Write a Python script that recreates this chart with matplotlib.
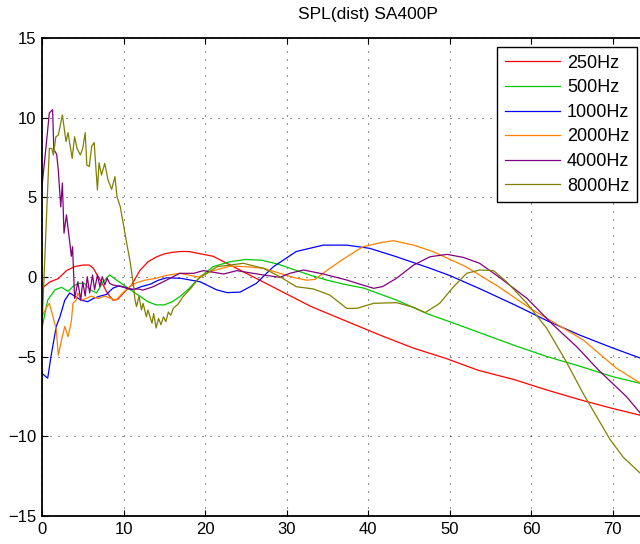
import matplotlib
matplotlib.use("Agg")
import matplotlib.pyplot as plt

plt.rcParams['font.family'] = ['Liberation Sans', 'DejaVu Sans']

labels = ['250Hz', '500Hz', '1000Hz', '2000Hz', '4000Hz', '8000Hz']
colors = ['#ff0000', '#00c800', '#0000ff', '#ff8000', '#800080', '#808000']

x_250 = [0, 1, 2, 3, 4, 5, 5.8, 6.3, 6.8, 7.4, 8, 8.7, 9.3, 10, 11, 12, 13, 14, 15, 16, 17, 18, 19,
         21, 25, 29, 33, 37, 41.5, 45.5, 49.5, 53.5, 58, 62, 66, 70, 74]
y_250 = [-0.7, -0.3, -0.1, 0.4, 0.65, 0.75, 0.75, 0.55, 0.1, -0.4, -1.0, -1.45, -1.4, -1.0, -0.5,
         0.4, 0.95, 1.25, 1.45, 1.55, 1.6, 1.6, 1.5, 1.3, 0.25, -0.8, -1.85, -2.7, -3.65, -4.45,
         -5.1, -5.85, -6.45, -7.1, -7.7, -8.25, -8.75]

x_500 = [0, 0.7, 1.6, 2.4, 3.2, 3.8, 4.4, 5.2, 5.9, 6.7, 7.5, 8.3, 8.9, 10, 11.4, 13, 14, 15, 16,
         17, 18, 19, 20, 21, 23, 25, 27, 29, 31, 33, 35, 37, 39.5, 43.5, 47.5, 50, 54, 58, 62, 66,
         70, 74]
y_500 = [-3.2, -1.45, -0.8, -0.65, -0.9, -0.6, -0.4, -0.4, -0.8, -1.0, -0.3, 0.13, -0.1, -0.5,
         -1.0, -1.55, -1.75, -1.75, -1.55, -1.2, -0.75, -0.2, 0.25, 0.65, 0.95, 1.1, 1.05, 0.8,
         0.45, 0.1, -0.2, -0.45, -0.7, -1.45, -2.35, -2.8, -3.55, -4.3, -5.0, -5.6, -6.25, -6.75]

x_1000 = [0, 0.7, 1.1, 1.75, 2.2, 2.8, 3.4, 4, 4.8, 5.6, 6.3, 7.1, 7.9, 8.7, 9.5, 10.5, 11.2, 12.2,
          13.3, 14.3, 15.3, 17, 19.4, 21.4, 22.7, 24.3, 26.3, 28.4, 31.2, 34.5, 37.4, 40.2, 43.5,
          47.6, 50, 54, 58, 62, 66, 70, 74]
y_1000 = [-6.05, -6.35, -5.0, -3.1, -2.5, -1.45, -1.0, -1.2, -1.45, -1.55, -1.35, -1.2, -1.1, -0.7,
          -0.55, -0.7, -0.8, -0.6, -0.45, -0.2, -0.05, -0.08, -0.3, -0.8, -0.98, -0.95, -0.4, 0.65,
          1.6, 2.0, 2.0, 1.8, 1.27, 0.55, 0.1, -0.8, -1.75, -2.75, -3.65, -4.45, -5.2]

x_2000 = [0, 0.5, 0.9, 1.35, 1.75, 2.0, 2.4, 2.8, 3.2, 3.6, 3.8, 4.2, 4.4, 4.8, 5.4, 6.0, 6.9, 7.7,
          8.5, 9.1, 9.9, 10.8, 11.4, 12.6, 13.8, 15.3, 16.9, 19.2, 21, 23.1, 25, 27.2, 29.2, 31,
          32.5, 33.5, 35.3, 37.4, 39.4, 41.5, 43.1, 45.6, 48, 52, 56, 60, 62.3, 66.4, 70.5, 74]
y_2000 = [-2.5, -1.95, -1.65, -2.5, -3.3, -4.9, -3.95, -3.1, -3.75, -2.8, -1.65, -1.45, -1.0, -1.45,
          -1.35, -1.2, -1.35, -1.2, -1.35, -1.45, -1.0, -0.6, -0.4, -0.2, -0.1, 0.1, 0.23, 0.0,
          0.4, 0.68, 0.65, 0.54, 0.23, -0.05, -0.2, -0.15, 0.54, 1.27, 1.9, 2.15, 2.28, 2.0, 1.59,
          0.65, -0.6, -2.0, -2.7, -3.95, -5.73, -6.85]

x_4000 = [0, 0.5, 0.9, 1.3, 1.45, 1.8, 2.0, 2.3, 2.5, 2.7, 3.0, 3.4, 3.6, 3.75, 4.0, 4.4, 4.75, 5.0,
          5.3, 5.55, 5.85, 6.2, 6.45, 6.8, 7.1, 7.4, 7.7, 8.0, 8.3, 8.7, 9.7, 10.8, 11.8, 12.4,
          13.7, 15.3, 16.9, 18.6, 19.8, 21, 22.3, 23.9, 25.9, 27.5, 29.2, 30.4, 32.1, 34.5, 37.4,
          39, 40.7, 41.8, 43.5, 45.6, 47.6, 49.7, 51.7, 53.7, 56.2, 59.5, 62.7, 65.6, 68.3, 71.7,
          74]
y_4000 = [5.7, 8.2, 10.3, 10.5, 8.0, 7.7, 6.7, 4.4, 5.9, 2.75, 3.9, 2.2, 1.3, 1.9, -1.35, -0.3,
          -1.45, -0.3, -1.2, 0.02, -1.0, 0.13, -0.8, 0.13, -0.6, 0.02, -0.5, -0.08, -0.4, -0.5,
          -0.6, -0.77, -0.75, -0.82, -0.6, -0.19, 0.23, 0.23, 0.4, 0.3, 0.19, 0.4, 0.23, 0.1,
          -0.02, 0.23, 0.44, 0.19, -0.19, -0.45, -0.71, -0.6, -0.08, 0.75, 1.27, 1.42, 1.23, 0.86,
          -0.05, -1.34, -3.0, -4.37, -5.85, -7.5, -8.9]

x_8000 = [0, 0.9, 1.2, 1.4, 1.7, 2.0, 2.5, 2.95, 3.2, 3.4, 3.7, 4.0, 4.3, 4.7, 5.0, 5.3, 5.5, 5.8,
          6.1, 6.4, 6.8, 7.0, 7.3, 7.7, 8.1, 8.55, 8.95, 9.2, 9.6, 10.0, 10.4, 10.8, 11.2, 11.4,
          11.6, 11.9, 12.2, 12.4, 12.8, 13.0, 13.5, 13.7, 14.0, 14.3, 14.6, 14.9, 15.2, 15.5, 15.8,
          16.1, 16.7, 17.3, 18.2, 19.2, 20.2, 21.5, 23.1, 24.7, 27.2, 29.2, 31.2, 33.3, 35.3, 37.4,
          38.6, 40.7, 43.5, 45.6, 47, 48.8, 50.5, 52.1, 53.7, 55.4, 57, 59.5, 61.9, 64.2, 66.5,
          69.7, 71.3, 74]
y_8000 = [-3.1, 8.07, 8.07, 7.66, 8.8, 8.9, 10.17, 8.5, 9.06, 8.4, 7.45, 8.8, 8.07, 7.66, 8.07,
          9.06, 7.03, 6.93, 8.2, 8.44, 5.46, 7.17, 6.4, 7.13, 6.09, 5.5, 6.3, 5.04, 4.42, 3.26, 2.1,
          1.0, -0.4, -1.4, -1.86, -1.2, -2.07, -1.65, -2.5, -2.07, -2.9, -2.3, -3.2, -2.6, -3.0,
          -2.5, -2.8, -2.2, -2.4, -1.97, -1.7, -1.24, -0.75, -0.1, 0.23, 0.65, 0.75, 0.86, 0.54,
          0.02, -0.61, -0.75, -1.13, -1.97, -1.97, -1.65, -1.61, -1.9, -2.24, -1.65, -0.61, 0.23,
          0.44, 0.4, -0.3, -1.65, -3.2, -5.2, -7.4, -10.2, -11.3, -12.6]

series = [(x_250, y_250), (x_500, y_500), (x_1000, y_1000),
          (x_2000, y_2000), (x_4000, y_4000), (x_8000, y_8000)]

fig = plt.figure(figsize=(6.4, 5.44), dpi=100)
# axes run past the right edge, like the cropped original
ax = fig.add_axes([42 / 640, 28 / 544, 652 / 640, 478 / 544])

for (xs, ys), c, lab in zip(series, colors, labels):
    ax.plot(xs, ys, color=c, lw=0.9, label=lab)

ax.set_xlim(0, 80)
ax.set_ylim(-15, 15)
ax.set_xticks(range(0, 71, 10))
ax.set_yticks(range(-15, 16, 5))
ax.grid(True, color='#222222', linestyle=(0, (1, 7)), linewidth=0.72)
ax.tick_params(direction='in', length=4, width=0.8, top=True, right=True,
               labelsize=12, pad=4)
for s in ax.spines.values():
    s.set_linewidth(1.3)
ax.set_title('SPL(dist) SA400P', fontsize=12.5, pad=14)

leg = ax.legend(loc='upper left', bbox_to_anchor=(0.698, 0.981), borderaxespad=0,
                fontsize=13, fancybox=False, framealpha=1, edgecolor='black',
                handlelength=3.05, handletextpad=0.4, labelspacing=0.42, borderpad=0.42)
leg.get_frame().set_linewidth(1.0)

fig.savefig('out.png', dpi=100)
